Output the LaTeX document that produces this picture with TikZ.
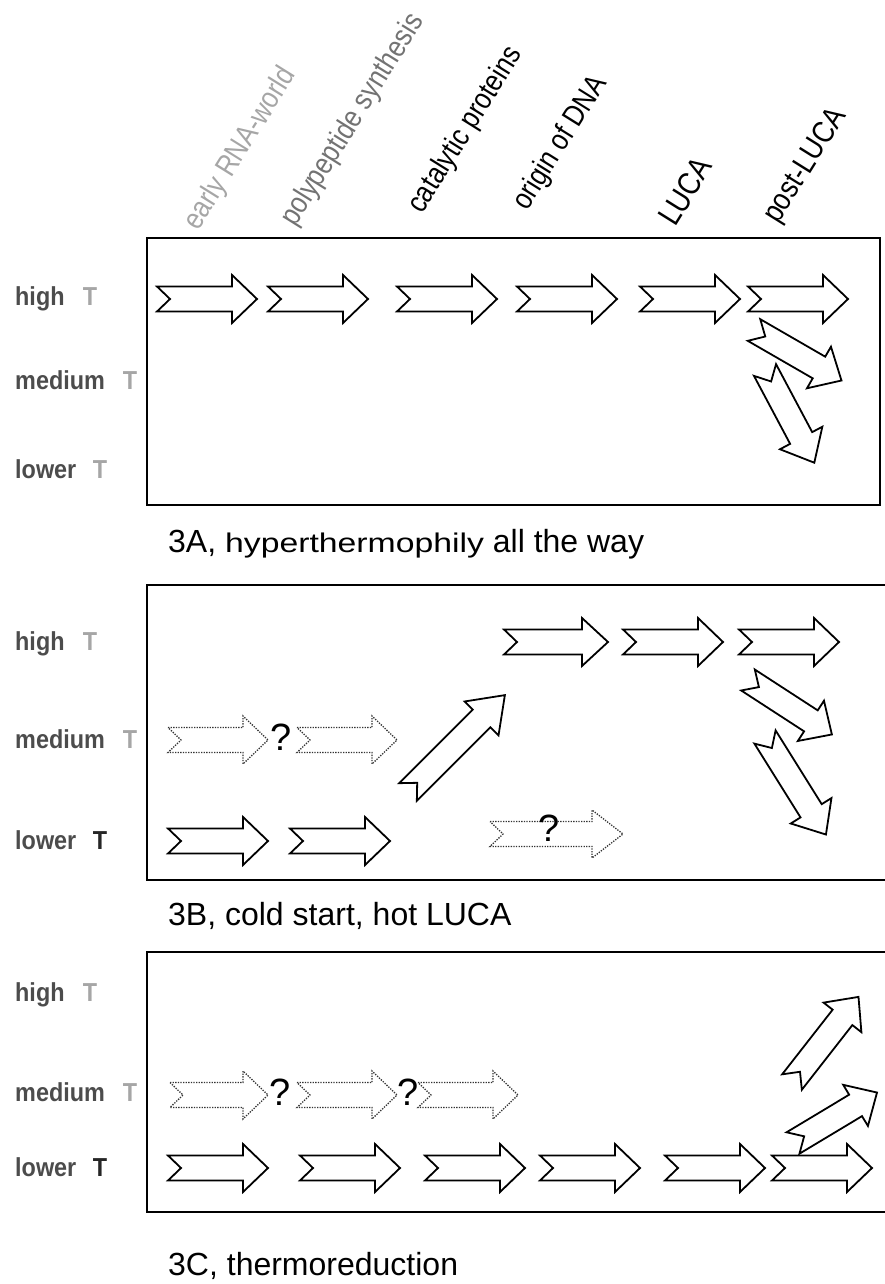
\documentclass[tikz,border=0pt]{standalone}
\usepackage{fontspec}
\usepackage{graphicx}
\setmainfont{Liberation Sans}
\newfontfamily\labfont[FakeStretch=0.85]{Liberation Sans}
\newfontfamily\rowfont[FakeStretch=0.9]{Liberation Sans}
\newcommand{\barrow}[6][]{\draw[#1, shift={(#2,#3)}, rotate=#4] (0,-12.5) -- ({#5-#6},-12.5) -- ({#5-#6},-24) -- (#5,0) -- ({#5-#6},24) -- ({#5-#6},12.5) -- (0,12.5) -- (13,0) -- cycle;}
\begin{document}
\begin{tikzpicture}[x=1pt,y=-1pt,
  solidarr/.style={draw=black, line width=1.8pt, line join=miter, fill=white},
  dotarr/.style={draw=black!80, line width=1.3pt, dash pattern=on 1.3pt off 1.3pt},
  boxline/.style={line width=2.7pt},
  toplab/.style={anchor=base west, rotate=58, inner sep=0pt, font=\labfont\fontsize{30}{30}\selectfont},
  rowlab/.style={anchor=base west, inner sep=0pt, font=\rowfont\fontsize{26}{26}\selectfont\bfseries, text=black!70},
  tlab/.style={anchor=base, inner sep=0pt, font=\rowfont\fontsize{26}{26}\selectfont\bfseries, text=black!35},
  tdark/.style={tlab, text=black!85},
  qmark/.style={inner sep=0pt, font=\fontsize{38}{38}\selectfont},
  caption/.style={anchor=base west, inner sep=0pt, font=\fontsize{32}{32}\selectfont}]
\useasboundingbox (0,0) rectangle (884,1284);

% column labels
\node[toplab, text=black!35] (l1) at (198,232) {early RNA-world};
\node[toplab, text=black!55] (l2) at (295,228) {polypeptide synthesis};
\node[toplab] (l3) at (422,215) {catalytic proteins};
\node[toplab] (l4) at (527,212) {origin of DNA};
\node[toplab, font=\labfont\fontsize{32}{32}\selectfont] (l5) at (675,228) {LUCA};
\node[toplab, font=\labfont\fontsize{31}{31}\selectfont] (l6) at (778,225) {post-LUCA};

% boxes
\draw[boxline] (147,238) rectangle (880,505);
\draw[boxline] (890,585) -- (147,585) -- (147,880) -- (890,880);
\draw[boxline] (890,952) -- (147,952) -- (147,1212) -- (890,1212);

% row labels A
\node[rowlab] (ahw) at (15,305) {high};   \node[tlab] (aht) at (90,305) {T};
\node[rowlab] (amw) at (15,389) {medium}; \node[tlab] (amt) at (130,389) {T};
\node[rowlab] (alw) at (15,478) {lower};  \node[tlab] (alt) at (100,478) {T};
% row labels B
\node[rowlab] (bhw) at (15,650) {high};   \node[tlab] (bht) at (90,650) {T};
\node[rowlab] (bmw) at (15,748) {medium}; \node[tlab] (bmt) at (130,748) {T};
\node[rowlab] (blw) at (15,849) {lower};  \node[tdark] (blt) at (100,849) {T};
% row labels C
\node[rowlab] (chw) at (15,1001) {high};   \node[tlab] (cht) at (90,1001) {T};
\node[rowlab] (cmw) at (15,1101) {medium}; \node[tlab] (cmt) at (130,1101) {T};
\node[rowlab] (clw) at (15,1176) {lower};  \node[tdark] (clt) at (100,1176) {T};

% panel A arrows
\barrow[solidarr]{157}{299}{0}{100}{25}
\barrow[solidarr]{268}{299}{0}{100}{25}
\barrow[solidarr]{397}{299}{0}{100}{25}
\barrow[solidarr]{517}{299}{0}{100}{25}
\barrow[solidarr]{640}{299}{0}{100}{25}
\barrow[solidarr]{748}{299}{0}{100}{25}
\barrow[solidarr]{754}{330}{-30}{101}{26}
\barrow[solidarr]{765}{370}{-62}{105}{28}

% panel B arrows
\barrow[solidarr]{504}{642}{0}{104}{26}
\barrow[solidarr]{623}{642}{0}{100}{25}
\barrow[solidarr]{739}{642}{0}{100}{25}
\barrow[solidarr]{408}{792}{45}{137}{33}
\barrow[solidarr]{748}{680}{-33}{100}{25}
\barrow[solidarr]{765}{737}{-58}{115}{28}
\barrow[dotarr]{168}{740}{0}{100}{25}
\barrow[dotarr]{297}{740}{0}{100}{25}
\node[qmark] (bq1) at (281,737) {?};
\barrow[solidarr]{168}{841}{0}{100}{25}
\barrow[solidarr]{290}{841}{0}{100}{25}
\barrow[dotarr]{490}{834}{0}{133}{31}
\node[qmark] (bq2) at (549,828) {?};

% panel C arrows
\barrow[dotarr]{170}{1095}{0}{98}{25}
\barrow[dotarr]{297}{1095}{0}{100}{25}
\barrow[dotarr]{418}{1095}{0}{100}{25}
\node[qmark] (cq1) at (280,1092) {?};
\node[qmark] (cq2) at (408,1092) {?};
\barrow[solidarr]{168}{1168}{0}{100}{25}
\barrow[solidarr]{300}{1168}{0}{100}{25}
\barrow[solidarr]{425}{1168}{0}{100}{25}
\barrow[solidarr]{540}{1168}{0}{100}{25}
\barrow[solidarr]{665}{1168}{0}{100}{25}
\barrow[solidarr]{772}{1168}{0}{100}{25}
\barrow[solidarr]{792}{1082}{52}{108}{26}
\barrow[solidarr]{793}{1143}{31}{98}{25}

% captions
\node[caption] (capA) at (168,552) {3A, {\fontsize{27}{27}\selectfont\scalebox{1.25}[1]{hyperthermophily}} all the way};
\node[caption] (capB) at (168,925) {3B, cold start, hot LUCA};
\node[caption] (capC) at (168,1275) {3C, thermoreduction};
\end{tikzpicture}
\end{document}
